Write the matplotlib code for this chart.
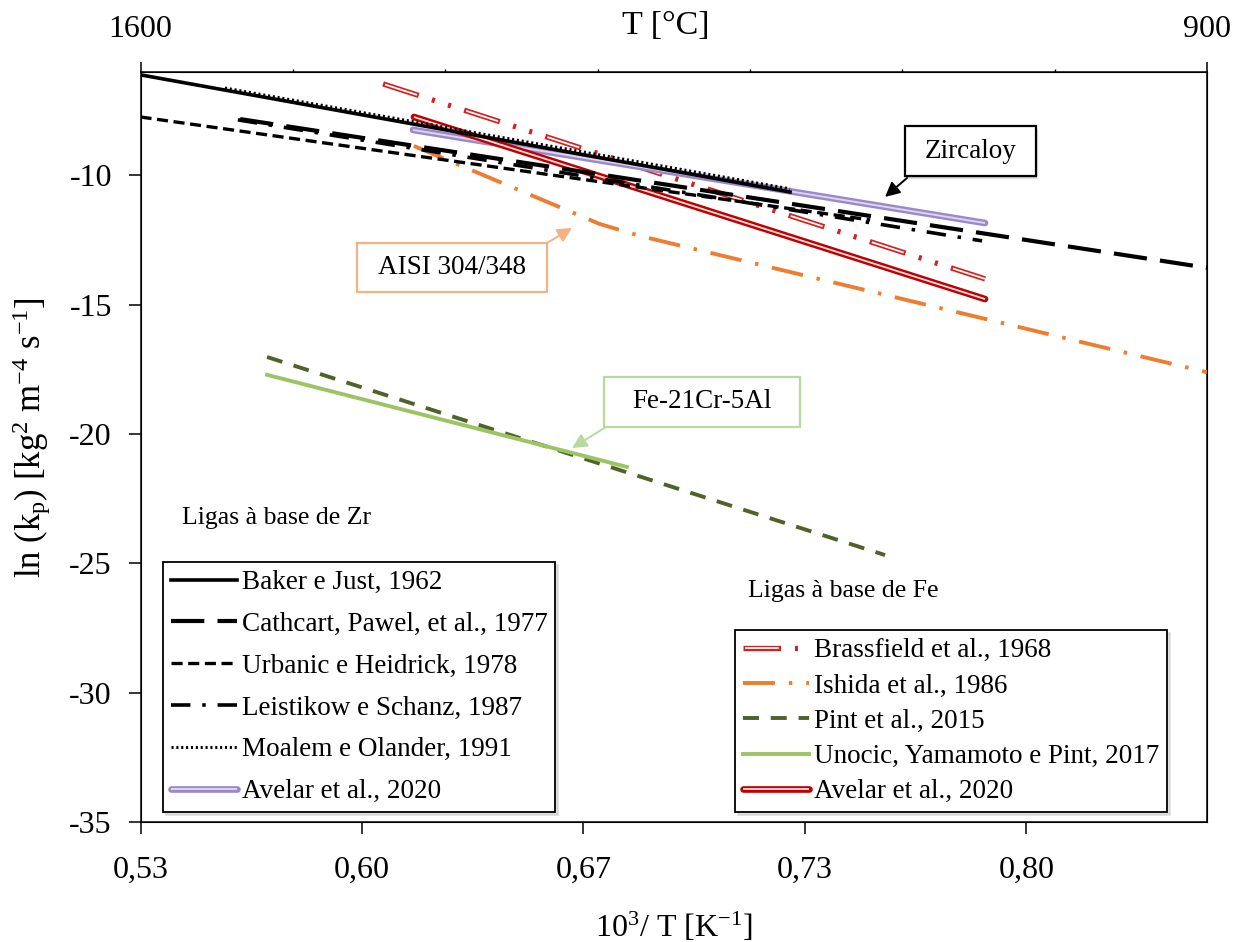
import numpy as np
import matplotlib
matplotlib.use("Agg")
import matplotlib.pyplot as plt
from matplotlib.patches import Rectangle

plt.rcParams['font.family'] = ['Liberation Serif', 'DejaVu Serif']
plt.rcParams['mathtext.fontset'] = 'custom'
plt.rcParams['mathtext.rm'] = 'Liberation Serif'
plt.rcParams['mathtext.it'] = 'Liberation Serif:italic'
plt.rcParams['mathtext.default'] = 'regular'
plt.rcParams['lines.scale_dashes'] = False
plt.rcParams['axes.unicode_minus'] = False

# ---- parabolic rate constants: x = 1000/T [1/K], y = ln(kp) ----
# Zr-based alloys
baker_x = [0.5339, 0.7294]
baker_y = [-6.11, -10.64]
cathcart_x = [0.5639, 0.8549]
cathcart_y = [-7.82, -13.57]
urbanic_x = [0.5339, 0.7535]
urbanic_y = [-7.74, -11.72]
leistikow_x = [0.5632, 0.7872]
leistikow_y = [-7.85, -12.53]
moalem_x = [0.5593, 0.7294]
moalem_y = [-6.62, -10.52]
avelar_zr_x = [0.6159, 0.7881]
avelar_zr_y = [-8.24, -11.84]

# Fe-based alloys
brassfield_x = [0.6069, 0.7881]
brassfield_y = [-6.46, -14.00]
ishida_x = [0.6162, 0.6722, 0.6843, 0.8549]
ishida_y = [-8.86, -11.88, -12.34, -17.61]
pint_x = [0.5720, 0.7580]
pint_y = [-17.02, -24.68]
unocic_x = [0.5720, 0.6803]
unocic_y = [-17.71, -21.27]
avelar_fe_x = [0.6162, 0.7881]
avelar_fe_y = [-7.74, -14.78]

zr_labels = ["Baker e Just, 1962", "Cathcart, Pawel, et al., 1977",
             "Urbanic e Heidrick, 1978", "Leistikow e Schanz, 1987",
             "Moalem e Olander, 1991", "Avelar et al., 2020"]
fe_labels = ["Brassfield et al., 1968", "Ishida et al., 1986", "Pint et al., 2015",
             "Unocic, Yamamoto e Pint, 2017", "Avelar et al., 2020"]

x_min, x_max = 0.5339, 0.8549
y_min, y_max = -35, -6
x_ticks = [x_min + k / 15 for k in range(5)]
x_tick_labels = ["0,53", "0,60", "0,67", "0,73", "0,80"]
y_ticks = [-35, -30, -25, -20, -15, -10]
top_labels = ["1600", "900"]

W, H = 1233, 942
fig = plt.figure(figsize=(W / 100, H / 100), dpi=100)
ax = fig.add_axes([140.5 / W, 1 - 822 / H, 1066.5 / W, 750 / H])


def fx(px):
    return px / W


def fy(py):
    return 1 - py / H


# colours
ORANGE = "#ED7D31"
RED = "#D62020"
DARKRED = "#C00000"
PURPLE = "#9A89C9"
PURPLE_IN = "#DCD4F0"
DKGREEN = "#4F6228"
LTGREEN = "#9CC463"

# Fe-based lines
ishida, = ax.plot(ishida_x, ishida_y, color=ORANGE, lw=2.8,
                  linestyle=(0, (23, 10, 2.5, 10)), dash_capstyle="butt", zorder=3)
br_o, = ax.plot(brassfield_x, brassfield_y, color=RED, lw=3.8,
                linestyle=(0, (27, 10, 2.2, 10, 2.2, 10)), dash_capstyle="butt", zorder=3)
br_i, = ax.plot(brassfield_x, brassfield_y, color="white", lw=1.3,
                linestyle=(59.9, (24.2, 37.2)), dash_capstyle="butt", zorder=3.1)
pint, = ax.plot(pint_x, pint_y, color=DKGREEN, lw=2.8,
                linestyle=(0, (11.5, 8.5)), dash_capstyle="butt", zorder=3)
unocic, = ax.plot(unocic_x, unocic_y, color=LTGREEN, lw=2.8, zorder=3.2)
afe_o, = ax.plot(avelar_fe_x, avelar_fe_y, color=DARKRED, lw=4.8,
                 solid_capstyle="round", zorder=3.4)
afe_i, = ax.plot(avelar_fe_x, avelar_fe_y, color="#F6E0E0", lw=1.3,
                 solid_capstyle="butt", zorder=3.5)

# Zr-based lines
azr_o, = ax.plot(avelar_zr_x, avelar_zr_y, color=PURPLE, lw=4.8,
                 solid_capstyle="round", zorder=3.2)
azr_i, = ax.plot(avelar_zr_x, avelar_zr_y, color=PURPLE_IN, lw=1.4,
                 solid_capstyle="butt", zorder=3.3)
cathcart, = ax.plot(cathcart_x, cathcart_y, color="black", lw=3.0,
                    linestyle=(0, (24, 9.5)), dash_capstyle="butt", zorder=4)
urbanic, = ax.plot(urbanic_x, urbanic_y, color="black", lw=2.4,
                   linestyle=(0, (8, 4)), dash_capstyle="butt", zorder=4)
leistikow, = ax.plot(leistikow_x, leistikow_y, color="black", lw=2.6,
                     linestyle=(0, (14, 8.5, 2.5, 8.5)), dash_capstyle="butt", zorder=4)
baker, = ax.plot(baker_x, baker_y, color="black", lw=2.6, zorder=4.1)
moalem, = ax.plot(moalem_x, moalem_y, color="black", lw=2.2,
                  linestyle=(0, (1.5, 2.0)), dash_capstyle="butt", zorder=4.2)

# axes
ax.set_xlim(x_min, x_max)
ax.set_ylim(y_min, y_max)
ax.set_xticks(x_ticks)
ax.set_xticklabels(x_tick_labels)
ax.set_yticks(y_ticks)
ax.tick_params(axis="x", direction="out", length=8.6, width=1.1, pad=16, labelsize=23)
ax.tick_params(axis="y", direction="out", length=8.6, width=1.1, pad=12, labelsize=23)
for s in ax.spines.values():
    s.set_linewidth(1.1)
ax.set_xlabel("10$^{3}$/ T [K$^{-1}$]", fontsize=23)
ax.xaxis.set_label_coords(0.5, -0.118)
ax.set_ylabel("ln (k$_{p}$) [kg$^{2}$ m$^{-4}$ s$^{-1}$]", fontsize=25)
ax.yaxis.set_label_coords(-0.082, 0.512)

# temperature axis on top
ax2 = ax.twiny()
ax2.set_xlim(x_min, x_max)
ax2.set_xticks([x_min, x_max])
ax2.set_xticklabels(top_labels)
ax2.set_xticks(np.linspace(x_min, x_max, 8)[1:-1], minor=True)
ax2.tick_params(axis="x", which="major", direction="out", length=7, width=1.1,
                pad=13, labelsize=23)
ax2.tick_params(axis="x", which="minor", direction="out", length=2, width=1.0)
fig.text(fx(666), fy(26), "T [°C]", ha="center", va="center", fontsize=24.5)

# group captions
fig.text(fx(182), fy(518), "Ligas à base de Zr", ha="left", va="center", fontsize=18.5)
fig.text(fx(748), fy(591), "Ligas à base de Fe", ha="left", va="center", fontsize=18.5)


# callout boxes
def callout(x0, y0, x1, y1, text, edge, start, tip, shadow=False):
    if shadow:
        for k, a in enumerate([0.10, 0.07, 0.04]):
            ax.add_artist(Rectangle((fx(x0 + 1 + k), fy(y1 + 2 + k)), fx(x1 - x0), fy(0) - fy(y1 - y0),
                                    transform=fig.transFigure, facecolor="black", edgecolor="none",
                                    alpha=a, zorder=5, clip_on=False))
    ax.add_artist(Rectangle((fx(x0), fy(y1)), fx(x1 - x0), fy(0) - fy(y1 - y0),
                            transform=fig.transFigure, facecolor="white", edgecolor=edge,
                            lw=1.6, zorder=6, clip_on=False))
    fig.text(fx((x0 + x1) / 2), fy((y0 + y1) / 2), text, ha="center", va="center",
             fontsize=19.5, zorder=7)
    ax.annotate("", xy=tip, xycoords="data", xytext=(fx(start[0]), fy(start[1])),
                textcoords="figure fraction",
                arrowprops=dict(arrowstyle="-|>", color=edge, lw=1.4, mutation_scale=22,
                                shrinkA=0, shrinkB=0), zorder=7)


callout(905, 126, 1036, 176, "Zircaloy", "black", (907, 178), (0.7580, -10.83), shadow=True)
callout(357, 243, 547, 292, "AISI 304/348", "#F4B183", (547, 243), (0.6638, -12.03))
callout(604, 377, 800, 427, "Fe-21Cr-5Al", "#B9DA9F", (606, 427), (0.6638, -20.54))

# legends
legend_kw = dict(loc="upper left", bbox_transform=fig.transFigure, fontsize=19.5,
                 handlelength=2.45, handletextpad=0.15, borderpad=0.3, borderaxespad=0,
                 frameon=True, fancybox=False, edgecolor="black", framealpha=1,
                 shadow={"color": "0.80", "alpha": 0.6})
zr_handles = [baker, cathcart, urbanic, leistikow, moalem, (azr_o, azr_i)]
leg1 = ax.legend(zr_handles, zr_labels, bbox_to_anchor=(fx(163), fy(562)),
                 labelspacing=0.62, **legend_kw)
leg1.get_frame().set_linewidth(1.3)
ax.add_artist(leg1)
fe_handles = [(br_o, br_i), ishida, pint, unocic, (afe_o, afe_i)]
leg2 = ax.legend(fe_handles, fe_labels, bbox_to_anchor=(fx(735), fy(630)),
                 labelspacing=0.38, **legend_kw)
leg2.get_frame().set_linewidth(1.3)
leg1.set_zorder(8)
leg2.set_zorder(8)

fig.savefig("out.png", dpi=100)
